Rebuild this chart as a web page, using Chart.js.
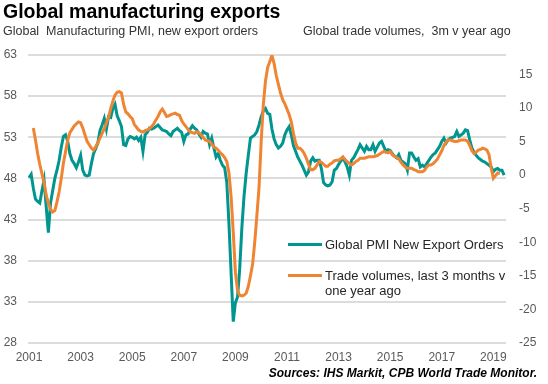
<!DOCTYPE html>
<html>
<head>
  <title>Global manufacturing exports</title>
  <script src="https://cdn.jsdelivr.net/npm/chart.js"></script>
  <style>
    body { margin: 0; background: #fff; font-family: "Liberation Sans", Arial, sans-serif; }
    #wrap { position: relative; width: 548px; height: 384px; overflow: hidden; }
    #wrap div { position: absolute; white-space: nowrap; }
    .title { left: 3px; top: 0px; font-size: 19.5px; font-weight: bold; color: #000; }
    .sub { top: 24px; font-size: 12.5px; color: #333; }
    .legLine { height: 3px; width: 34px; }
    .legText { font-size: 13px; color: #262626; line-height: 15px; }
    .source { right: 11px; top: 366px; font-size: 12px; font-weight: bold; font-style: italic; color: #000; }
  </style>
</head>
<body>
<div id="wrap">
  <canvas id="chart" width="548" height="384"></canvas>
  <div class="title">Global manufacturing exports</div>
  <div class="sub" style="left:3px">Global&nbsp; Manufacturing PMI, new export orders</div>
  <div class="sub" style="left:303px">Global trade volumes, &nbsp;3m v year ago</div>
  <div class="legLine" style="left:288px; top:243px; background:#00958f"></div>
  <div class="legText" style="left:325px; top:237px">Global PMI New Export Orders</div>
  <div class="legLine" style="left:288px; top:274px; background:#ef8433"></div>
  <div class="legText" style="left:325px; top:268px">Trade volumes, last 3 months v<br>one year ago</div>
  <div class="source">Sources: IHS Markit, CPB World Trade Monitor.</div>
</div>

<script>
  // Monthly data, first value = Jan 2001
  const pmiStart = 2001;
  const pmiExportOrders = [
    48.1, 48.5, 46.8, 45.5, 45.2, 45.0, 46.5, 47.8, 44.5, 41.4, 45.0, 46.5,   // 2001
    48.0, 49.0, 50.2, 51.8, 53.1, 53.3, 52.5, 51.0, 50.2, 49.8, 49.3, 50.0,   // 2002
    50.8, 49.0, 48.4, 48.3, 48.4, 49.8, 51.0, 51.6, 52.3, 53.8, 54.5, 55.3,   // 2003
    54.0, 55.5, 55.4, 56.5, 57.0, 55.6, 55.0, 54.3, 52.1, 52.0, 52.8, 53.1,   // 2004
    53.0, 52.8, 53.0, 52.6, 53.0, 51.3, 53.3, 53.6, 54.1, 54.0, 54.1, 54.3,   // 2005
    54.5, 54.2, 53.9, 53.8, 53.7, 53.4, 53.2, 53.7, 53.9, 54.1, 53.8, 53.6,   // 2006
    52.5, 53.3, 53.4, 54.0, 54.4, 54.1, 53.9, 53.4, 53.0, 53.7, 53.5, 53.4,   // 2007
    52.1, 52.9, 51.7, 50.6, 51.0, 50.2, 49.6, 49.3, 47.5, 42.5, 36.5, 30.6,   // 2008
    32.9, 33.6, 37.0, 42.0, 45.8, 48.6, 50.8, 52.9, 53.1, 53.3, 53.7, 54.5,   // 2009
    55.5, 56.2, 56.5, 55.9, 55.8, 54.0, 52.8, 52.1, 51.7, 51.9, 52.3, 53.3,   // 2010
    53.9, 54.3, 53.3, 52.0, 51.3, 50.6, 50.1, 49.6, 49.0, 48.4, 48.8, 50.1,   // 2011
    50.5, 50.1, 50.2, 50.2, 49.2, 47.5, 47.2, 47.1, 47.2, 47.6, 49.0, 49.2,   // 2012
    49.7, 50.1, 50.5, 50.0, 49.4, 48.4, 50.2, 50.5, 51.0, 51.5, 52.1, 51.7,   // 2013
    51.3, 51.9, 51.5, 51.5, 52.1, 51.3, 51.8, 52.3, 52.5, 51.9, 51.3, 51.5,   // 2014
    51.4, 51.0, 50.7, 50.5, 50.9, 50.2, 50.0, 49.8, 49.0, 51.1, 51.1, 50.6,   // 2015
    50.2, 50.4, 49.4, 49.6, 49.4, 49.8, 50.2, 50.6, 50.9, 51.1, 51.5, 51.9,   // 2016
    52.5, 52.9, 52.3, 52.7, 52.9, 53.0, 53.1, 53.7, 53.1, 53.3, 53.5, 53.9,   // 2017
    53.8, 52.7, 51.7, 51.2, 50.8, 50.5, 50.3, 50.1, 50.0, 49.8, 49.6, 49.4,   // 2018
    48.8, 49.1, 49.2, 49.0, 49.0, 48.4                                         // 2019
  ];

  // Trade volumes, % 3m v year ago, first value = Mar 2001
  const tradeStart = 2001 + 2 / 12;
  const tradeVolumes = [
                7.0, 5.2, 3.2, 1.6, 0.2, -1.2, -3.0, -4.2, -5.1, -5.5,            // 2001
    -5.3, -4.0, -2.5, -0.5, 1.8, 3.5, 5.2, 6.3, 6.8, 7.3, 7.6, 7.9,            // 2002
    7.8, 7.0, 6.0, 5.0, 4.5, 4.0, 3.7, 4.2, 4.8, 5.5, 6.2, 6.9,                // 2003
    7.8, 8.6, 9.9, 11.0, 11.9, 12.3, 12.4, 12.2, 10.5, 9.4, 9.1, 8.7,          // 2004
    8.4, 7.5, 7.1, 6.7, 6.5, 6.4, 6.6, 6.7, 6.9, 7.2, 7.6, 8.2,                // 2005
    8.7, 9.4, 9.8, 9.3, 8.7, 8.8, 9.0, 9.1, 9.2, 9.0, 8.9, 8.1,                // 2006
    7.6, 7.2, 6.8, 6.4, 6.3, 6.2, 6.4, 6.3, 6.0, 5.6, 5.2, 5.1,                // 2007
    5.0, 4.6, 4.2, 4.0, 3.7, 3.3, 3.0, 2.6, 2.0, 0.3, -3.2, -8.5,              // 2008
    -14.5, -17.2, -17.9, -18.0, -17.9, -17.6, -16.6, -15.0, -13.3, -10.0, -6.0, -1.8, // 2009
    5.0, 10.5, 14.0, 16.0, 16.9, 17.8, 16.6, 14.8, 13.5, 12.2, 11.2, 10.6,     // 2010
    9.8, 9.0, 7.9, 6.2, 4.8, 4.0, 4.0, 3.7, 3.2, 2.5, 1.6, 0.8,                // 2011
    0.8, 1.0, 1.5, 2.0, 1.9, 1.6, 1.3, 1.3, 1.6, 1.8, 2.1, 2.2,                // 2012
    2.2, 2.4, 2.7, 2.3, 2.0, 1.7, 1.5, 1.7, 2.0, 2.2, 2.5, 2.5,                // 2013
    2.5, 2.6, 2.7, 2.7, 2.7, 2.8, 2.9, 3.1, 3.3, 3.5, 3.4, 3.3,                // 2014
    3.5, 3.0, 2.8, 2.6, 2.4, 1.9, 1.5, 1.2, 1.0, 1.0, 1.0, 0.8,                // 2015
    0.7, 0.5, 0.5, 0.5, 0.7, 1.2, 1.5, 1.5, 1.7, 2.0, 2.4, 3.0,                // 2016
    3.6, 4.4, 4.9, 5.2, 5.2, 5.1, 5.0, 5.0, 5.1, 5.2, 5.2, 5.2,                // 2017
    5.0, 4.4, 3.6, 3.2, 3.4, 3.7, 3.8, 4.0, 3.9, 3.7, 3.0, 1.0,                // 2018
    -0.5, -0.1, 0.3, 0.2                                                       // 2019
  ];

  const yearTicks = [2001, 2003, 2005, 2007, 2009, 2011, 2013, 2015, 2017, 2019];
  const leftTicks = [28, 33, 38, 43, 48, 53, 58, 63];
  const rightTicks = [-25, -20, -15, -10, -5, 0, 5, 10, 15];

  const toPoints = (start, values) => values.map((v, i) => ({ x: start + i / 12, y: v }));

  const tickFont = { family: '"Liberation Sans", Arial, sans-serif', size: 12 };
  const tickColor = '#595959';

  new Chart(document.getElementById('chart'), {
    type: 'line',
    data: {
      datasets: [
        {
          label: 'Global PMI New Export Orders',
          data: toPoints(pmiStart, pmiExportOrders),
          yAxisID: 'yL',
          borderColor: '#00958f',
          borderWidth: 3,
          pointRadius: 0,
          tension: 0,
          order: 1
        },
        {
          label: 'Trade volumes, last 3 months v one year ago',
          data: toPoints(tradeStart, tradeVolumes),
          yAxisID: 'yR',
          borderColor: '#ef8433',
          borderWidth: 3,
          pointRadius: 0,
          tension: 0,
          order: 0
        }
      ]
    },
    options: {
      responsive: false,
      animation: false,
      layout: { padding: { top: 55, bottom: 11, left: 0, right: 0 } },
      plugins: { legend: { display: false }, tooltip: { enabled: false } },
      scales: {
        x: {
          type: 'linear',
          min: 2000.96,
          max: 2019.49,
          afterBuildTicks: s => { s.ticks = yearTicks.map(v => ({ value: v })); },
          afterFit: s => { s.height = 30; },
          grid: { display: false, drawTicks: false },
          border: { display: false },
          ticks: { padding: 7, color: tickColor, font: tickFont, maxRotation: 0, autoSkip: false, callback: v => String(v) }
        },
        yL: {
          position: 'left',
          min: 28,
          max: 63,
          afterBuildTicks: s => { s.ticks = leftTicks.map(v => ({ value: v })); },
          afterFit: s => { s.width = 28; },
          grid: { color: '#dcdcdc', lineWidth: 2, drawTicks: false },
          border: { display: false },
          ticks: { padding: 11, color: tickColor, font: tickFont }
        },
        yR: {
          position: 'right',
          min: -25,
          max: 17.86,
          afterBuildTicks: s => { s.ticks = rightTicks.map(v => ({ value: v })); },
          afterFit: s => { s.width = 42; },
          grid: { display: false, drawTicks: false },
          border: { display: false },
          ticks: { padding: 13, color: tickColor, font: tickFont }
        }
      }
    }
  });
</script>
</body>
</html>
